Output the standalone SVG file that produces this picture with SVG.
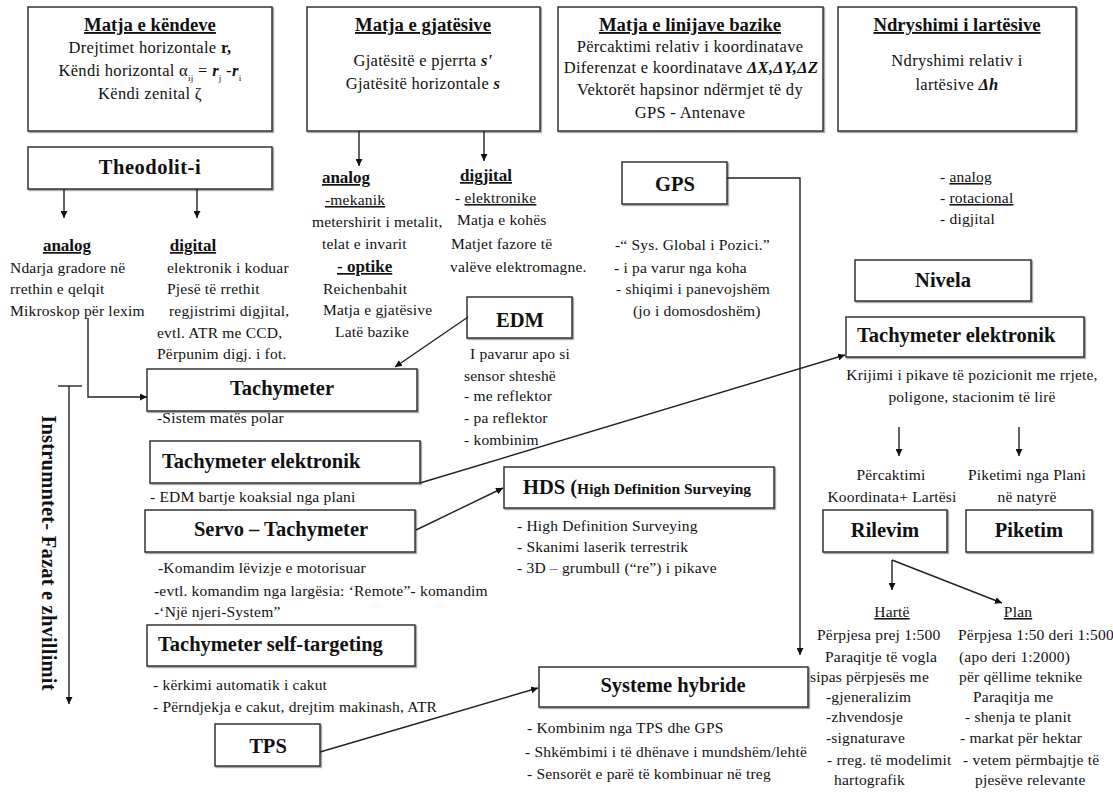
<svg xmlns="http://www.w3.org/2000/svg" width="1113" height="805" viewBox="0 0 1113 805">
<defs>
<marker id="ah" viewBox="0 0 10 10" refX="10" refY="5" markerWidth="7" markerHeight="7" orient="auto-start-reverse" markerUnits="userSpaceOnUse">
<path d="M0,0 L10,5 L0,10 z" fill="#111"/>
</marker>
<filter id="sh" x="-5%" y="-5%" width="110%" height="120%">
<feDropShadow dx="1.2" dy="1.2" stdDeviation="0.7" flood-color="#777" flood-opacity="0.8"/>
</filter>
</defs>
<style>
text{font-family:"Liberation Serif","Times New Roman",serif;fill:#111;}
.b{stroke:#333;stroke-width:1.5;fill:#fff;filter:url(#sh);}
.t{font-size:18.7px;font-weight:bold;text-decoration:underline;}
.h{font-size:20.5px;font-weight:bold;}
.p{font-size:16.5px;letter-spacing:0.3px;}
.n{font-size:15.5px;letter-spacing:0.2px;}
.u{text-decoration:underline;}
.bu{font-size:17px;font-weight:bold;text-decoration:underline;}
.m{text-anchor:middle;}
.c{stroke:#222;stroke-width:1.4;fill:none;}
.ca{stroke:#222;stroke-width:1.4;fill:none;marker-end:url(#ah);}
</style>

<g id="box-kendeve">
<rect class="b" x="28" y="7" width="244" height="124"/>
<text class="t m" x="150" y="31">Matja e këndeve</text>
<text class="p m" x="150" y="53">Drejtimet horizontale <tspan font-weight="bold">r,</tspan></text>
<text class="p m" x="150" y="76">Këndi horizontal α<tspan font-size="9" baseline-shift="sub">ij</tspan> = <tspan font-style="italic" font-weight="bold">r</tspan><tspan font-size="9" baseline-shift="sub">j</tspan> -<tspan font-style="italic" font-weight="bold">r</tspan><tspan font-size="9" baseline-shift="sub">i</tspan></text>
<text class="p m" x="150" y="99">Këndi zenital ζ</text>
</g>

<g id="box-gjatesive">
<rect class="b" x="307" y="7" width="233" height="124"/>
<text class="t m" x="423" y="31">Matja e gjatësive</text>
<text class="p m" x="423" y="66">Gjatësitë e pjerrta <tspan font-style="italic" font-weight="bold">s'</tspan></text>
<text class="p m" x="423" y="89">Gjatësitë horizontale <tspan font-style="italic" font-weight="bold">s</tspan></text>
</g>

<g id="box-linijave">
<rect class="b" x="558" y="7" width="265" height="124"/>
<text class="t m" x="690" y="31">Matja e linijave bazike</text>
<text class="p m" x="690" y="52">Përcaktimi relativ i koordinatave</text>
<text class="p m" x="691" y="73" font-size="14.2">Diferenzat e koordinatave <tspan font-style="italic" font-weight="bold">ΔX,ΔY,ΔZ</tspan></text>
<text class="p m" x="690" y="95">Vektorët hapsinor ndërmjet të dy</text>
<text class="p m" x="690" y="118">GPS - Antenave</text>
</g>

<g id="box-lartesive">
<rect class="b" x="838" y="7" width="238" height="124"/>
<text class="t m" x="957" y="31">Ndryshimi i lartësive</text>
<text class="p m" x="957" y="66">Ndryshimi relativ i</text>
<text class="p m" x="957" y="90">lartësive  <tspan font-style="italic" font-weight="bold">Δh</tspan></text>
</g>

<g id="theodolit">
<rect class="b" x="28" y="147" width="244" height="42"/>
<text class="h m" x="150" y="174" letter-spacing="0.5">Theodolit-i</text>
</g>

<g id="theodolit-analog">
<text class="bu m" x="67" y="251">analog</text>
<text class="n" x="10" y="273">Ndarja gradore në</text>
<text class="n" x="10" y="294">rrethin e qelqit</text>
<text class="n" x="10" y="316">Mikroskop për lexim</text>
</g>
<g id="theodolit-digital">
<text class="bu m" x="193" y="251">digital</text>
<text class="n" x="167" y="273">elektronik i  koduar</text>
<text class="n" x="167" y="294">Pjesë të rrethit</text>
<text class="n" x="169" y="316">regjistrimi digjital,</text>
<text class="n" x="157" y="338">evtl. ATR me CCD,</text>
<text class="n" x="157" y="359">Përpunim digj. i fot.</text>
</g>

<g id="gjatesi-analog">
<text class="bu m" x="346" y="183">analog</text>
<text class="n u" x="325" y="205">-mekanik</text>
<text class="n" x="312" y="227">metershirit i metalit,</text>
<text class="n" x="322" y="249">telat e invarit</text>
<text class="bu" x="337" y="272">- optike</text>
<text class="n" x="323" y="294">Reichenbahit</text>
<text class="n" x="323" y="315">Matja  e gjatësive</text>
<text class="n" x="335" y="337">Latë bazike</text>
</g>
<g id="gjatesi-digjital">
<text class="bu" x="460" y="181">digjital</text>
<text class="n" x="455" y="203">- <tspan class="u">elektronike</tspan></text>
<text class="n" x="457" y="225">Matja e kohës</text>
<text class="n" x="451" y="249">Matjet fazore  të</text>
<text class="n" x="450" y="272">valëve elektromagne.</text>
</g>

<g id="gps">
<rect class="b" x="622" y="162" width="105" height="42"/>
<text class="h m" x="675" y="191" font-size="22.5">GPS</text>
<text class="n" x="615" y="250">-“ Sys. Global i Pozici.”</text>
<text class="n" x="614" y="273">- i pa varur nga koha</text>
<text class="n" x="616" y="294">- shiqimi i panevojshëm</text>
<text class="n" x="633" y="316">(jo i domosdoshëm)</text>
</g>

<g id="nivela-types">
<text class="n" x="940" y="182">- <tspan class="u">analog</tspan></text>
<text class="n" x="940" y="203">- <tspan class="u">rotacional</tspan></text>
<text class="n" x="940" y="224">- digjital</text>
</g>

<g id="nivela">
<rect class="b" x="855" y="260" width="176" height="41"/>
<text class="h m" x="943" y="287">Nivela</text>
</g>

<g id="tach-elektronik-right">
<rect class="b" x="846" y="317" width="238" height="40"/>
<text class="h" x="857" y="342">Tachymeter elektronik</text>
<text class="n m" x="972" y="380">Krijimi i pikave të pozicionit me rrjete,</text>
<text class="n m" x="972" y="402">poligone, stacionim të lirë</text>
</g>

<g id="labels-rilevim-piketim">
<text class="n m" x="891" y="480">Përcaktimi</text>
<text class="n m" x="892" y="502">Koordinata+ Lartësi</text>
<text class="n m" x="1027" y="480">Piketimi nga Plani</text>
<text class="n m" x="1027" y="502">në natyrë</text>
</g>

<g id="rilevim">
<rect class="b" x="823" y="510" width="124" height="42"/>
<text class="h m" x="885" y="537">Rilevim</text>
</g>
<g id="piketim">
<rect class="b" x="966" y="510" width="126" height="42"/>
<text class="h m" x="1029" y="537">Piketim</text>
</g>

<g id="harte">
<text class="n m u" x="892" y="617">Hartë</text>
<text class="n" x="817" y="640">Përpjesa prej 1:500</text>
<text class="n" x="825" y="662">Paraqitje të vogla</text>
<text class="n" x="810" y="682">sipas përpjesës me</text>
<text class="n" x="826" y="702">-gjeneralizim</text>
<text class="n" x="826" y="722">-zhvendosje</text>
<text class="n" x="826" y="743">-signaturave</text>
<text class="n" x="827" y="765">- rreg. të modelimit</text>
<text class="n" x="834" y="785">hartografik</text>
</g>
<g id="plan">
<text class="n m u" x="1018" y="617">Plan</text>
<text class="n" x="958" y="640" letter-spacing="0">Përpjesa 1:50 deri 1:500</text>
<text class="n" x="959" y="662">(apo deri 1:2000)</text>
<text class="n" x="959" y="682">për qëllime teknike</text>
<text class="n" x="973" y="702">Paraqitja me</text>
<text class="n" x="965" y="722">- shenja te planit</text>
<text class="n" x="960" y="743">- markat për hektar</text>
<text class="n" x="963" y="765">- vetem përmbajtje të</text>
<text class="n" x="975" y="785">pjesëve relevante</text>
</g>

<g id="edm">
<rect class="b" x="467" y="297" width="105" height="41"/>
<text class="h m" x="520" y="327" font-size="23.5">EDM</text>
<text class="n" x="470" y="359">I pavarur apo si</text>
<text class="n" x="464" y="381">sensor shteshë</text>
<text class="n" x="464" y="401">- me reflektor</text>
<text class="n" x="464" y="423">- pa reflektor</text>
<text class="n" x="464" y="445">- kombinim</text>
</g>

<g id="instrumentet">
<text class="h m" transform="translate(42,553) rotate(90)" font-size="17" letter-spacing="0.2">Instrumntet- Fazat  e zhvillimit</text>
</g>

<g id="tachymeter">
<rect class="b" x="147" y="369" width="270" height="42"/>
<text class="h m" x="282" y="395">Tachymeter</text>
<text class="n" x="157" y="423">-Sistem matës polar</text>
</g>

<g id="tach-elektronik-left">
<rect class="b" x="150" y="441" width="270" height="42"/>
<text class="h" x="162" y="468">Tachymeter elektronik</text>
<text class="n" x="150" y="502">- EDM bartje koaksial nga plani</text>
</g>

<g id="servo">
<rect class="b" x="145" y="510" width="270" height="42"/>
<text class="h m" x="281" y="536">Servo – Tachymeter</text>
<text class="n" x="158" y="573">-Komandim lëvizje e  motorisuar</text>
<text class="n" x="154" y="596">-evtl. komandim nga largësia:  ‘Remote”- komandim</text>
<text class="n" x="154" y="617">-‘Një njeri-System”</text>
</g>

<g id="self-targeting">
<rect class="b" x="147" y="625" width="268" height="41"/>
<text class="h" x="158" y="651">Tachymeter self-targeting</text>
<text class="n" x="153" y="690">- kërkimi automatik i cakut</text>
<text class="n" x="153" y="712">- Përndjekja e cakut, drejtim makinash, ATR</text>
</g>

<g id="tps">
<rect class="b" x="215" y="724" width="105" height="42"/>
<text class="h m" x="268" y="753" font-size="22.5">TPS</text>
</g>

<g id="hds">
<rect class="b" x="504" y="467" width="270" height="41"/>
<text class="h" x="523" y="494" font-size="22">HDS (<tspan font-size="15.5">High Definition Surveying</tspan></text>
<text class="n" x="517" y="531">- High Definition Surveying</text>
<text class="n" x="517" y="552">- Skanimi laserik terrestrik</text>
<text class="n" x="517" y="573">- 3D – grumbull (“re”) i pikave</text>
</g>

<g id="hybride">
<rect class="b" x="539" y="667" width="269" height="40"/>
<text class="h m" x="673" y="692">Systeme hybride</text>
<text class="n" x="527" y="733">- Kombinim nga TPS dhe GPS</text>
<text class="n" x="525" y="757">- Shkëmbimi i të dhënave i mundshëm/lehtë</text>
<text class="n" x="527" y="779">- Sensorët e parë të kombinuar në treg</text>
</g>

<g id="connectors">
<path class="ca" d="M64,189 V218"/>
<path class="ca" d="M197,189 V218"/>
<path class="ca" d="M359,131 V166"/>
<path class="ca" d="M484,131 V161"/>
<path class="ca" d="M88,318 V397 H147"/>
<path class="ca" d="M468,317 L395,367"/>
<path class="ca" d="M727,178 H800 V655"/>
<path class="ca" d="M420,483 L845,355"/>
<path class="ca" d="M416,530 L503,488"/>
<path class="ca" d="M320,752 L538,688"/>
<path class="ca" d="M899,427 V456"/>
<path class="ca" d="M1019,427 V456"/>
<path class="ca" d="M892,560 V590"/>
<path class="ca" d="M892,560 L1002,603"/>
<path class="c" d="M58,386 H82"/>
<path class="ca" d="M69,386 V704"/>
</g>
</svg>
